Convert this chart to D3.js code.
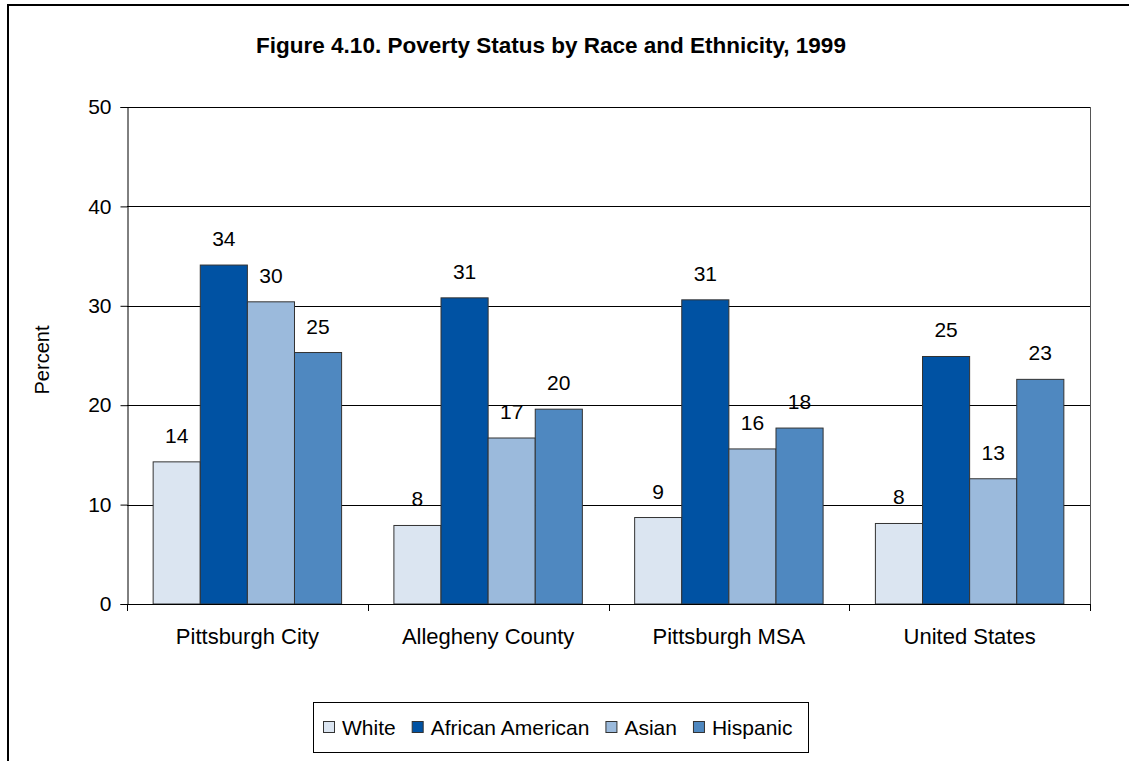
<!DOCTYPE html>
<html>
<head>
    <meta charset="UTF-8">
    <title>Poverty Status by Race and Ethnicity, 1999</title>
    <style>
        body { margin: 0; background: #fff; }
        text { font-family: Arial, "Liberation Sans", sans-serif; fill: #000; }
    </style>
</head>
<body>
    <script src="https://d3js.org/d3.v7.min.js"></script>
    <svg width="1129" height="761"></svg>
    <script>
        let svg = d3.select("svg");

        // chart data
        let categories = ["Pittsburgh City", "Allegheny County", "Pittsburgh MSA", "United States"];
        let series = ["White", "African American", "Asian", "Hispanic"];
        let white = [14.3, 7.9, 8.7, 8.1];
        let african_american = [34.1, 30.8, 30.6, 24.9];
        let asian = [30.4, 16.7, 15.6, 12.6];
        let hispanic = [25.3, 19.6, 17.7, 22.6];
        let y_ticks = [0, 10, 20, 30, 40, 50];
        let colors = ["#dbe5f1", "#0052a3", "#9bbadc", "#4f88c0"];

        let values = [white, african_american, asian, hispanic];

        // plot area
        let plot_left = 127, plot_right = 1090, plot_top = 107, plot_bottom = 604;

        let x0 = d3.scaleBand().domain(categories).range([plot_left, plot_right]).padding(0);
        let x1 = d3.scaleBand().domain(series).range([0, x0.bandwidth()])
            .paddingInner(0).paddingOuter(0.555);
        let y = d3.scaleLinear().domain([0, 50]).range([plot_bottom, plot_top]);
        let color = d3.scaleOrdinal().domain(series).range(colors);

        // outer frame (top and left only)
        svg.append("path")
            .attr("d", "M8,761 L8,5 L1129,5")
            .attr("fill", "none")
            .attr("stroke", "#000")
            .attr("stroke-width", 2);

        // title
        svg.append("text")
            .attr("x", 551)
            .attr("y", 53)
            .attr("text-anchor", "middle")
            .style("font-size", "22.5px")
            .style("font-weight", "bold")
            .text("Figure 4.10. Poverty Status by Race and Ethnicity, 1999");

        // gridlines
        svg.append("g")
            .selectAll("line")
            .data(y_ticks.filter(d => d > 0))
            .enter().append("line")
            .attr("x1", plot_left).attr("x2", plot_right)
            .attr("y1", d => Math.round(y(d)) + 0.5)
            .attr("y2", d => Math.round(y(d)) + 0.5)
            .attr("stroke", "#000");

        // right border of plot area
        svg.append("line")
            .attr("x1", plot_right + 0.5).attr("x2", plot_right + 0.5)
            .attr("y1", plot_top).attr("y2", plot_bottom)
            .attr("stroke", "#555");

        // bars
        let rows = categories.map((c, i) => ({
            category: c,
            bars: series.map((s, j) => ({ key: s, value: values[j][i] }))
        }));

        let groups = svg.append("g")
            .selectAll("g")
            .data(rows)
            .enter().append("g")
            .attr("transform", d => "translate(" + x0(d.category) + ",0)");

        groups.selectAll("rect")
            .data(d => d.bars)
            .enter().append("rect")
            .attr("x", d => x1(d.key))
            .attr("y", d => y(d.value))
            .attr("width", x1.bandwidth())
            .attr("height", d => plot_bottom - y(d.value))
            .attr("fill", d => color(d.key))
            .attr("stroke", "#333")
            .attr("stroke-width", 1);

        // value labels
        groups.selectAll("text")
            .data(d => d.bars)
            .enter().append("text")
            .attr("x", d => x1(d.key) + x1.bandwidth() / 2)
            .attr("y", d => y(d.value) - 19)
            .attr("text-anchor", "middle")
            .style("font-size", "21px")
            .text(d => d3.format(".0f")(d.value));

        // y axis
        let y_axis = svg.append("g")
            .attr("transform", "translate(" + (plot_left + 0.5) + ",0)")
            .call(d3.axisLeft(y).tickValues(y_ticks).tickSize(7).tickPadding(9));
        y_axis.select(".domain").attr("stroke", "#000");
        y_axis.selectAll(".tick line").attr("stroke", "#000");
        y_axis.selectAll("text")
            .style("font-family", "Arial, 'Liberation Sans', sans-serif")
            .style("font-size", "21px")
            .attr("fill", "#000");

        // x axis line + boundary ticks
        svg.append("line")
            .attr("x1", plot_left).attr("x2", plot_right)
            .attr("y1", plot_bottom + 0.5).attr("y2", plot_bottom + 0.5)
            .attr("stroke", "#000");

        let boundaries = categories.map(c => x0(c)).concat([plot_right]);
        svg.append("g")
            .selectAll("line")
            .data(boundaries)
            .enter().append("line")
            .attr("x1", d => Math.round(d) + 0.5).attr("x2", d => Math.round(d) + 0.5)
            .attr("y1", plot_bottom).attr("y2", plot_bottom + 7)
            .attr("stroke", "#000");

        svg.append("g")
            .selectAll("text")
            .data(categories)
            .enter().append("text")
            .attr("x", d => x0(d) + x0.bandwidth() / 2)
            .attr("y", 644)
            .attr("text-anchor", "middle")
            .style("font-size", "22px")
            .text(d => d);

        // y axis title
        svg.append("text")
            .attr("transform", "translate(49,360) rotate(-90)")
            .attr("text-anchor", "middle")
            .style("font-size", "20px")
            .text("Percent");

        // legend
        let legend = svg.append("g");
        legend.append("rect")
            .attr("x", 313.5).attr("y", 702.5)
            .attr("width", 495).attr("height", 50)
            .attr("fill", "#fff")
            .attr("stroke", "#000");

        let lx = 323;
        series.forEach((s, i) => {
            legend.append("rect")
                .attr("x", lx + 0.5).attr("y", 721.5)
                .attr("width", 11).attr("height", 11)
                .attr("fill", color(s))
                .attr("stroke", "#333");
            let t = legend.append("text")
                .attr("x", lx + 19)
                .attr("y", 735)
                .style("font-size", "21px")
                .text(s);
            lx += 19 + t.node().getComputedTextLength() + 16;
        });
    </script>
</body>
</html>
